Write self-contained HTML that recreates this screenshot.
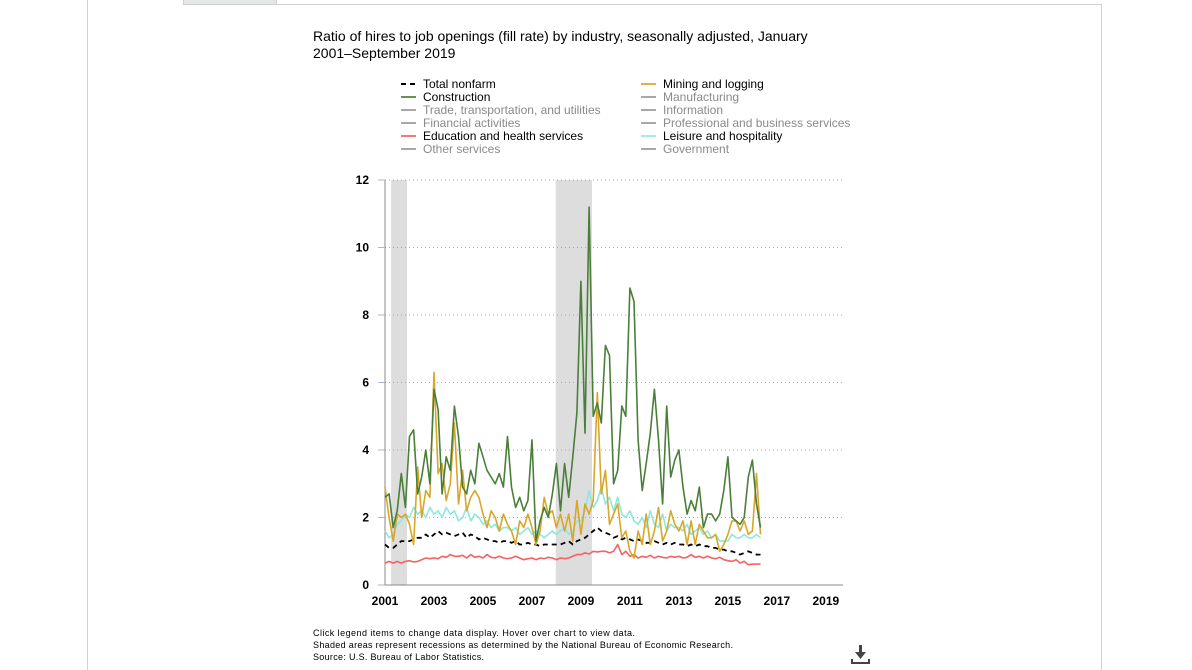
<!DOCTYPE html>
<html><head><meta charset="utf-8">
<style>
html,body{margin:0;padding:0;background:#fff;}
body{width:1192px;height:670px;position:relative;overflow:hidden;font-family:"Liberation Sans",Arial,sans-serif;}
.abs{position:absolute;}
</style></head>
<body>
<div class="abs" style="left:87px;top:0;width:1px;height:670px;background:#d0d0d0"></div>
<div class="abs" style="left:183px;top:4px;width:918px;height:1px;background:#d0d0d0"></div>
<div class="abs" style="left:1101px;top:4px;width:1px;height:666px;background:#d0d0d0"></div>
<div class="abs" style="left:183px;top:0;width:92px;height:4px;background:#e4e8e4;border:1px solid #cfcfcf;border-top:none"></div>

<svg class="abs" style="left:0;top:0" width="1192" height="670">
<text x="313" y="41" font-size="14" fill="#000">Ratio of hires to job openings (fill rate) by industry, seasonally adjusted, January</text>
<text x="313" y="58" font-size="14" fill="#000">2001–September 2019</text>
<g id="legend"></g>
<g id="recessions"></g>
<g id="grid"></g>
<g id="axes"></g>
<g id="series"></g>
<text x="313" y="636" font-size="9" fill="#000" textLength="322">Click legend items to change data display. Hover over chart to view data.</text>
<text x="313" y="648" font-size="9" fill="#000" textLength="420">Shaded areas represent recessions as determined by the National Bureau of Economic Research.</text>
<text x="313" y="660" font-size="9" fill="#000" textLength="171">Source: U.S. Bureau of Labor Statistics.</text>
<g fill="#444">
<rect x="859" y="645" width="3" height="9"/><polygon points="855,652 866,652 860.5,659"/>
<rect x="851" y="662" width="19" height="2"/><rect x="851" y="659" width="2" height="4"/><rect x="868" y="659" width="2" height="4"/>
</g>
</svg>

<script>
const legendNames=["Total nonfarm","Construction","Trade, transportation, and utilities","Financial activities","Education and health services","Other services","Mining and logging","Manufacturing","Information","Professional and business services","Leisure and hospitality","Government"];
const legendColors=["#000","#4a7f3a","#999","#999","#f56262","#999","#d8a72a","#999","#999","#999","#8ee8e0","#999"];
const legendActive=[1,1,0,0,1,0,1,0,0,0,1,0];
const recessions=[[2001.25,2001.9],[2007.97,2009.45]];
const yTicks=[0,2,4,6,8,10,12];
const xTicks=[2001,2003,2005,2007,2009,2011,2013,2015,2017,2019];
const startYear=2001, step=1/6;
const construction=[2.6,2.7,1.7,2.2,3.3,2.3,4.4,4.6,2.7,3.2,4.0,3.0,5.8,5.2,2.7,3.8,3.4,5.3,4.4,2.9,2.7,3.4,3.0,4.2,3.8,3.4,3.2,3.0,3.3,2.9,4.4,2.9,2.3,2.6,2.2,2.5,4.3,1.3,1.9,2.3,2.0,2.7,3.6,2.2,3.6,2.6,3.8,5.1,9.0,4.5,11.2,5.0,5.4,4.8,7.1,6.8,3.0,3.4,5.3,5.0,8.8,8.4,4.3,2.8,3.6,4.5,5.8,4.3,2.4,5.3,3.2,3.7,4.0,2.9,2.1,2.5,2.2,2.9,1.7,2.1,2.1,1.9,2.1,2.8,3.8,2.0,1.9,1.8,2.0,3.2,3.7,2.4,1.7];
const mining=[2.9,2.0,1.3,2.1,2.0,2.1,1.8,1.2,3.5,2.0,2.8,2.6,6.3,3.3,3.6,2.5,3.0,4.8,2.4,3.4,2.2,2.6,2.8,2.6,2.1,1.7,2.2,2.0,1.6,2.1,1.8,1.6,1.2,1.9,1.7,2.1,1.7,1.2,1.6,2.6,2.1,2.2,1.7,2.1,1.6,2.1,1.3,2.5,1.5,2.4,2.1,2.5,5.7,2.7,3.4,1.8,2.1,2.4,1.4,1.6,1.0,0.8,1.6,1.2,2.1,1.2,1.6,2.3,1.3,1.6,2.2,1.8,1.6,1.9,1.2,1.9,1.2,1.8,1.6,1.4,1.4,1.5,1.0,1.2,1.5,1.9,1.9,1.6,1.9,1.5,1.6,3.3,1.5];
const leisure=[1.6,1.4,1.5,1.8,1.9,2.1,2.0,2.3,2.1,2.2,2.0,2.3,2.1,2.2,2.0,2.3,2.1,2.2,1.9,2.0,2.3,1.9,2.1,2.0,1.8,1.9,1.7,1.8,1.6,1.7,1.7,1.6,1.7,1.5,1.6,1.7,1.5,1.6,1.5,1.4,1.5,1.6,1.5,1.6,1.7,1.5,1.6,1.9,1.9,2.2,2.8,2.3,2.5,2.9,2.4,2.6,2.2,2.6,2.1,2.0,2.2,1.9,1.8,2.0,1.7,2.2,1.8,1.7,2.1,1.6,1.8,1.7,1.7,1.6,1.8,1.5,1.6,1.7,1.5,1.6,1.4,1.5,1.3,1.3,1.3,1.5,1.4,1.4,1.5,1.4,1.4,1.5,1.4];
const totalNonfarm=[1.2,1.1,1.1,1.2,1.3,1.3,1.3,1.35,1.4,1.4,1.5,1.4,1.5,1.6,1.5,1.55,1.5,1.45,1.5,1.55,1.4,1.5,1.45,1.35,1.4,1.35,1.3,1.3,1.25,1.3,1.3,1.25,1.3,1.2,1.2,1.25,1.2,1.2,1.15,1.2,1.2,1.2,1.2,1.2,1.25,1.3,1.2,1.3,1.35,1.4,1.5,1.6,1.7,1.6,1.55,1.5,1.4,1.45,1.35,1.4,1.35,1.3,1.35,1.3,1.25,1.25,1.3,1.25,1.2,1.25,1.2,1.25,1.2,1.2,1.15,1.2,1.15,1.2,1.15,1.15,1.1,1.1,1.05,1.05,1.0,1.0,0.95,0.9,0.95,1.0,0.95,0.9,0.9];
const education=[0.65,0.7,0.65,0.7,0.65,0.7,0.72,0.68,0.7,0.75,0.8,0.78,0.8,0.78,0.85,0.82,0.9,0.85,0.85,0.88,0.8,0.9,0.82,0.85,0.8,0.9,0.82,0.8,0.85,0.8,0.78,0.8,0.85,0.8,0.75,0.78,0.8,0.75,0.8,0.78,0.82,0.8,0.75,0.8,0.78,0.8,0.85,0.9,0.9,0.95,0.92,1.0,0.98,1.0,1.0,0.95,1.0,1.2,0.9,1.0,0.85,0.9,0.8,0.85,0.82,0.88,0.8,0.85,0.82,0.8,0.85,0.82,0.85,0.8,0.82,0.9,0.82,0.85,0.8,0.85,0.8,0.78,0.82,0.75,0.72,0.7,0.75,0.65,0.7,0.6,0.62,0.62,0.62];

const NS="http://www.w3.org/2000/svg";
const X0=385,X1=843,Y0=585,Y1=180;
const xs=y=>X0+(y-2001)*(X1-X0)/18.7;
const ys=v=>Y0-v*(Y0-Y1)/12;
function mk(tag,attrs,parent){const e=document.createElementNS(NS,tag);for(const k in attrs)e.setAttribute(k,attrs[k]);parent.appendChild(e);return e;}

const lg=document.getElementById('legend');
legendNames.forEach((n,i)=>{
  const col=i<6?0:1,row=i%6;
  const lx=col?641:401, ly=84+row*13;
  const g=mk('g',{},lg);
  
  
  if(i===0){mk('line',{x1:lx,y1:ly,x2:lx+15,y2:ly,stroke:'#000','stroke-width':2,'stroke-dasharray':'5,4'},g);}
  else mk('line',{x1:lx,y1:ly,x2:lx+15,y2:ly,stroke:legendColors[i],'stroke-width':2,'stroke-opacity':0.85},g);
  const t=mk('text',{x:lx+22,y:ly+4,'font-size':12,fill:legendActive[i]?'#000':'#8a8a8a'},g);t.textContent=n;
});

const rg=document.getElementById('recessions');
recessions.forEach(r=>{
  const e=mk('rect',{x:xs(r[0]),y:Y1,width:xs(r[1])-xs(r[0]),height:Y0-Y1,fill:'#dddddd'},rg);
  
  
});

const gg=document.getElementById('grid');
yTicks.forEach(v=>{
  if(v>0){const l=mk('line',{x1:X0,y1:ys(v),x2:X1,y2:ys(v),stroke:'#aaa','stroke-width':1,'stroke-dasharray':'1,3'},gg);
  
  }
});
const ax=document.getElementById('axes');
mk('line',{x1:X0,y1:Y1,x2:X0,y2:Y0,stroke:'#888','stroke-width':1},ax);
mk('line',{x1:X0,y1:Y0,x2:X1,y2:Y0,stroke:'#888','stroke-width':1},ax);
yTicks.forEach(v=>{
  mk('line',{x1:X0-7,y1:ys(v),x2:X0,y2:ys(v),stroke:'#a9b8cc','stroke-width':1},ax);
  const t=mk('text',{x:369,y:ys(v)+4,'font-size':12,'font-weight':'bold','text-anchor':'end',fill:'#000'},ax);
  
  
  t.textContent=v;
});
xTicks.forEach(v=>{
  const t=mk('text',{x:xs(v),y:605,'font-size':12,'font-weight':'bold','text-anchor':'middle',fill:'#000'},ax);
  
  
  t.textContent=v;
});

const sg=document.getElementById('series');
function line(arr,color,name,dash,w){
  const pts=arr.map((v,i)=>xs(startYear+i*step).toFixed(1)+','+ys(v).toFixed(1)).join(' ');
  const p=mk('polyline',{points:pts,fill:'none',stroke:color,'stroke-width':w||1.6,'stroke-linejoin':'round'},sg);
  if(dash)p.setAttribute('stroke-dasharray',dash);
  
  
}
line(education,'#f56262','line-education-health');
line(totalNonfarm,'#000','line-total-nonfarm','5,4',1.8);
line(leisure,'#8ee8e0','line-leisure-hospitality');
line(mining,'#d8a72a','line-mining-logging');
line(construction,'#4a7f3a','line-construction');
</script>
</body></html>
